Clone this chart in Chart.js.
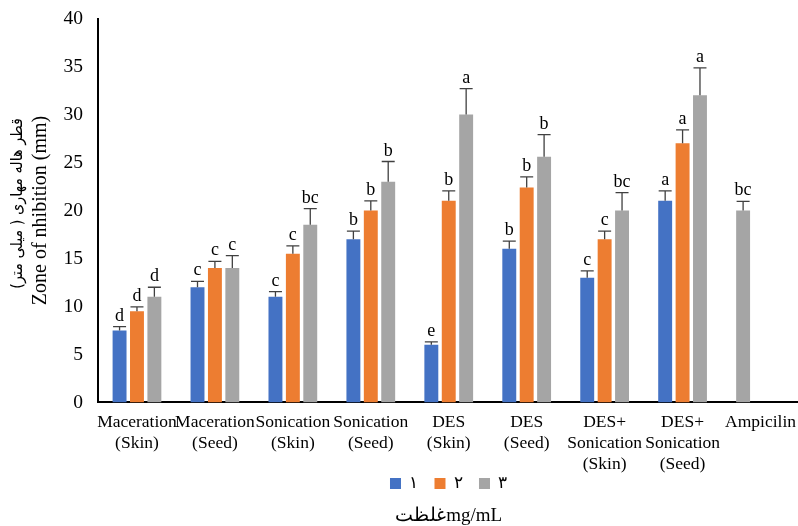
<!DOCTYPE html>
<html>
<head>
<meta charset="utf-8">
<script src="https://cdn.jsdelivr.net/npm/chart.js@4/dist/chart.umd.min.js"></script>
<style>
  html, body { margin: 0; padding: 0; background: #fff; overflow: hidden; }
  #wrap { position: relative; width: 806px; height: 526px; }
</style>
</head>
<body>
<div id="wrap"><canvas id="chart"></canvas></div>
<script>
// Extraction methods (categories)
const categories = [
  ['Maceration', '(Skin)'],
  ['Maceration', '(Seed)'],
  ['Sonication', '(Skin)'],
  ['Sonication', '(Seed)'],
  ['DES', '(Skin)'],
  ['DES', '(Seed)'],
  ['DES+', 'Sonication', '(Skin)'],
  ['DES+', 'Sonication', '(Seed)'],
  'Ampicilin'
];

// Inhibition zone (mm) at each concentration
const conc1 = [7.5, 12, 11, 17, 6, 16, 13, 21, null];
const conc2 = [9.5, 14, 15.5, 20, 21, 22.4, 17, 27, null];
const conc3 = [11, 14, 18.5, 23, 30, 25.6, 20, 32, null];
// Positive control (ampicillin)
const control = [null, null, null, null, null, null, null, null, 20];

// Standard deviations
const err1 = [0.4, 0.6, 0.55, 0.85, 0.3, 0.8, 0.7, 1.05, null];
const err2 = [0.45, 0.7, 0.8, 1.0, 1.05, 1.1, 0.85, 1.4, null];
const err3 = [1.0, 1.3, 1.7, 2.1, 2.7, 2.3, 1.85, 2.85, null];
const controlErr = [null, null, null, null, null, null, null, null, 0.95];

// Significance letters
const sig1 = ['d', 'c', 'c', 'b', 'e', 'b', 'c', 'a', null];
const sig2 = ['d', 'c', 'c', 'b', 'b', 'b', 'c', 'a', null];
const sig3 = ['d', 'c', 'bc', 'b', 'a', 'b', 'bc', 'a', null];
const controlSig = [null, null, null, null, null, null, null, null, 'bc'];

// Legend labels, axis titles and ticks
const seriesNames = ['۱', '۲', '۳'];
const yTitleFa = 'قطر هاله مهاری ( میلی متر)';
const yTitleEn = 'Zone of nhibition (mm)';
const xTitle = 'غلظتmg/mL';
const yTicks = [0, 5, 10, 15, 20, 25, 30, 35, 40];

const BLUE = '#4472C4', ORANGE = '#ED7D31', GRAY = '#A5A5A5';
const SERIF = '"Liberation Serif", "Times New Roman", serif';

const pick = (a, b) => a.map((v, i) => (v != null ? v : b[i]));

// Error bars and letters drawn on top of the bars
const errorBars = {
  id: 'errorBars',
  afterDatasetsDraw(chart) {
    const ctx = chart.ctx;
    const y = chart.scales.y;
    chart.data.datasets.forEach((ds, di) => {
      const meta = chart.getDatasetMeta(di);
      meta.data.forEach((bar, i) => {
        const v = ds.data[i];
        const e = ds.errors[i];
        if (v == null || e == null) return;
        const top = y.getPixelForValue(v);
        const capY = y.getPixelForValue(v + e);
        const half = 6.5;
        ctx.save();
        ctx.strokeStyle = '#404040';
        ctx.lineWidth = 1.3;
        ctx.beginPath();
        ctx.moveTo(bar.x, top);
        ctx.lineTo(bar.x, capY);
        ctx.moveTo(bar.x - half, capY);
        ctx.lineTo(bar.x + half, capY);
        ctx.stroke();
        const s = ds.letters[i];
        if (s) {
          ctx.fillStyle = '#000';
          ctx.font = '18px ' + SERIF;
          ctx.textAlign = 'center';
          ctx.textBaseline = 'alphabetic';
          ctx.fillText(s, bar.x, capY - 6);
        }
        ctx.restore();
      });
    });
  }
};

// Persian line of the y-axis title, set in a more compact face
const persianTitle = {
  id: 'persianTitle',
  afterDraw(chart) {
    const ctx = chart.ctx;
    const a = chart.chartArea;
    ctx.save();
    ctx.translate(18, (a.top + a.bottom) / 2 - 7);
    ctx.rotate(-Math.PI / 2);
    ctx.fillStyle = '#000';
    ctx.font = '16px "DejaVu Sans Condensed", "DejaVu Sans", sans-serif';
    ctx.textAlign = 'center';
    ctx.textBaseline = 'middle';
    ctx.fillText(yTitleFa, 0, 0);
    ctx.restore();
  }
};

new Chart(document.getElementById('chart'), {
  type: 'bar',
  data: {
    labels: categories,
    datasets: [
      {
        label: seriesNames[0],
        data: pick(conc1, control),
        errors: pick(err1, controlErr),
        letters: pick(sig1, controlSig),
        backgroundColor: (c) => (c.type === 'data' && control[c.dataIndex] != null ? GRAY : BLUE)
      },
      { label: seriesNames[1], data: conc2, errors: err2, letters: sig2, backgroundColor: ORANGE },
      { label: seriesNames[2], data: conc3, errors: err3, letters: sig3, backgroundColor: GRAY }
    ]
  },
  options: {
    responsive: true,
    maintainAspectRatio: false,
    animation: false,
    datasets: { bar: { categoryPercentage: 0.67, barPercentage: 0.8 } },
    layout: { padding: { left: 0, right: 0, top: 18.5, bottom: 0 } },
    plugins: {
      tooltip: { enabled: false },
      legend: {
        position: 'bottom',
        fullSize: false,
        labels: {
          boxWidth: 11,
          boxHeight: 11,
          padding: 16,
          color: '#000',
          font: { family: SERIF, size: 17 }
        }
      },
      title: {
        display: true,
        position: 'bottom',
        fullSize: false,
        text: xTitle,
        color: '#000',
        font: { family: SERIF, size: 19, weight: 'normal', lineHeight: 1.0 },
        padding: { top: 5, bottom: 0 }
      }
    },
    scales: {
      x: {
        afterFit(s) {
          s.height = 56.6;
          // the last line of the longer labels runs past the scale box
          s._computeLabelArea = () => undefined;
        },
        grid: { display: false, drawTicks: false },
        border: { display: true, color: '#000', width: 2 },
        ticks: {
          color: '#000',
          autoSkip: false,
          maxRotation: 0,
          minRotation: 0,
          padding: 10,
          font: { family: SERIF, size: 17.5, lineHeight: 1.2 }
        }
      },
      y: {
        min: 0,
        max: 40,
        afterBuildTicks(s) { s.ticks = yTicks.map((v) => ({ value: v })); },
        afterFit(s) {
          s.width = 98;
          s.paddingTop = 0;
          s.paddingBottom = 0;
        },
        grid: { display: false, drawTicks: false },
        border: { display: true, color: '#000', width: 2 },
        ticks: {
          color: '#000',
          padding: 15,
          font: { family: SERIF, size: 19.5 }
        },
        title: {
          display: true,
          text: yTitleEn,
          color: '#000',
          font: { family: SERIF, size: 20, lineHeight: 1.15 },
          padding: { top: 29.5, bottom: 0 }
        }
      }
    }
  },
  plugins: [errorBars, persianTitle]
});
</script>
</body>
</html>
